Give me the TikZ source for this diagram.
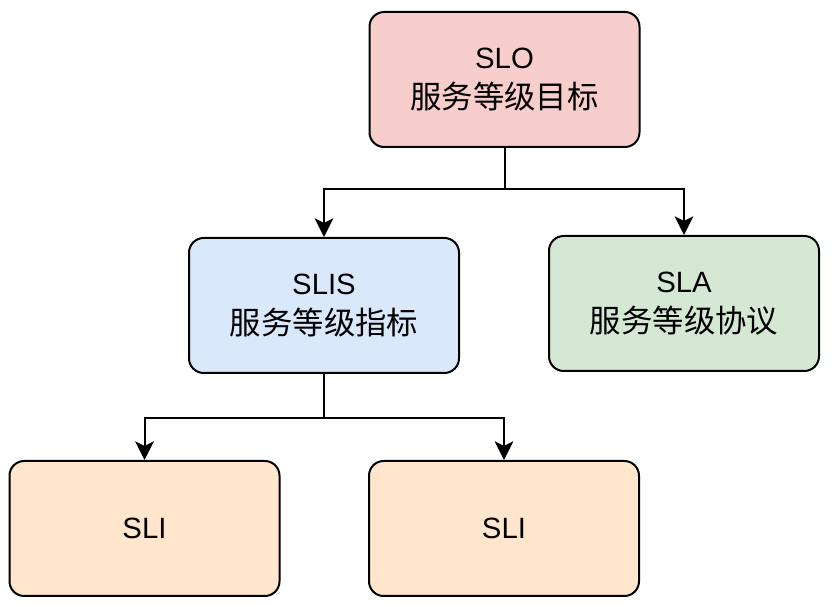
\documentclass[tikz,border=0pt]{standalone}
\usepackage{fontspec}
\setmainfont{Liberation Sans}
\newfontfamily\cjk[Scale=1.07]{Noto Sans CJK SC}
\usetikzlibrary{arrows.meta}
\definecolor{cred}{HTML}{F8CECC}
\definecolor{cblue}{HTML}{DAE8FC}
\definecolor{cgreen}{HTML}{D5E8D4}
\definecolor{corange}{HTML}{FFE6CC}
\begin{document}
\begin{tikzpicture}[x=0.75pt,y=-0.75pt,
  box/.style={draw=black, line width=1.5pt, rounded corners=11pt,
    minimum width=202.5pt, minimum height=101.25pt, align=center,
    inner sep=0pt, font=\fontsize{22}{30}\selectfont},
  arr/.style={draw=black, line width=1.5pt, -{Stealth[length=14pt,width=14pt,inset=3.5pt]}},
  ln/.style={draw=black, line width=1.5pt}]
\useasboundingbox (0,0) rectangle (833,605);
\node[box, fill=cred] (slo) at (504.5,79.5) {SLO\\\cjk 服务等级目标};
\node[box, fill=cblue] (slis) at (324,305.5) {SLIS\\\cjk 服务等级指标};
\node[box, fill=cgreen] (sla) at (684,303.5) {SLA\\\cjk 服务等级协议};
\node[box, fill=corange] (sli1) at (144.5,528.5) {SLI};
\node[box, fill=corange] (sli2) at (504,528.5) {SLI};
\coordinate (j1) at (504.5,189);
\coordinate (j2) at (324,418);
\draw[ln] (slo.south) -- (j1);
\draw[arr] (j1) -| (slis.north);
\draw[arr] (j1) -| (sla.north);
\draw[ln] (slis.south) -- (j2);
\draw[arr] (j2) -| (sli1.north);
\draw[arr] (j2) -| (sli2.north);
\end{tikzpicture}
\end{document}
